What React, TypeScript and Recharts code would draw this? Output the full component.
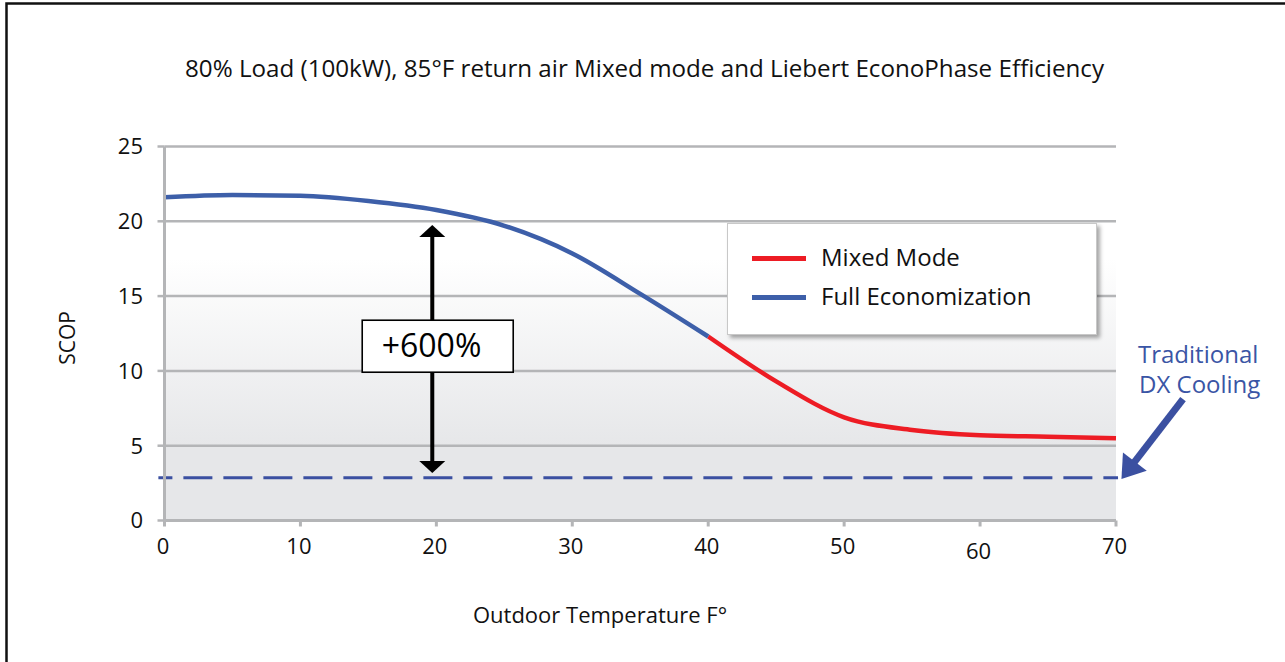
import React from 'react';
import {
  ComposedChart,
  Line,
  XAxis,
  YAxis,
  CartesianGrid,
  ReferenceLine,
  ReferenceDot,
  Legend,
} from 'recharts';

// ---------- data ----------
const temperatures = [0, 5, 10, 15, 20, 25, 30, 35, 40, 45, 50, 55, 60, 65, 70];
const fullEconomization: (number | null)[] = [21.6, 21.75, 21.7, 21.35, 20.75, 19.7, 17.85, 15.15, 12.3, null, null, null, null, null, null];
const mixedMode: (number | null)[] = [null, null, null, null, null, null, null, null, 12.3, 9.3, 6.9, 6.05, 5.7, 5.6, 5.5];
const dxCooling = 2.86;
const xTicks = [0, 10, 20, 30, 40, 50, 60, 70];
const yTicks = [0, 5, 10, 15, 20, 25];
const seriesOrder = ['Mixed Mode', 'Full Economization'];

const titleText = '80% Load (100kW), 85°F return air Mixed mode and Liebert EconoPhase Efficiency';
const xLabel = 'Outdoor Temperature F°';
const yLabel = 'SCOP';
const improvementLabel = '+600%';
const dxLabelLines = ['Traditional', 'DX Cooling'];

// annotation anchor points (data coordinates)
const improvementArrow = [{ x: 19.7, y: 19.75 }, { x: 19.7, y: 3.18 }];
const improvementBox = { x: 20.1, y: 11.65 };
const dxArrow = [{ x: 74.93, y: 8.12 }, { x: 70.4, y: 2.77 }];
const dxLineSegment = [{ x: -0.45, y: dxCooling }, { x: 70.15, y: dxCooling }];

const tableData = temperatures.map((t, i) => ({
  t,
  full: fullEconomization[i],
  mixed: mixedMode[i],
}));

const FONT = '"Open Sans", sans-serif';
const GRID = '#b4b5b7';
const BLUE = '#3d5fa9';
const RED = '#ed1c24';
const DASH_BLUE = '#3b50a1';
const TEXT_BLUE = '#3a55a5';

const XTick = (props: any) => {
  const { x, y, payload } = props;
  const extra = payload.value === 60 ? 5 : 0;
  return (
    <text x={x - 1.5} y={y + extra} dy="0.71em" textAnchor="middle" fontFamily={FONT} fontSize={22} fill="#111">
      {payload.value}
    </text>
  );
};

const VerticalArrow = (props: any) => {
  const { x1, y1, y2 } = props;
  const top = Math.min(y1, y2);
  const bottom = Math.max(y1, y2);
  const hh = 12;
  const hw = 13;
  return (
    <g>
      <line x1={x1} x2={x1} y1={top + hh - 1} y2={bottom - hh + 1} stroke="#000" strokeWidth={4} />
      <polygon points={`${x1},${top} ${x1 - hw},${top + hh} ${x1 + hw},${top + hh}`} fill="#000" />
      <polygon points={`${x1},${bottom} ${x1 - hw},${bottom - hh} ${x1 + hw},${bottom - hh}`} fill="#000" />
    </g>
  );
};

const DxArrow = (props: any) => {
  const { x1, y1, x2, y2 } = props;
  const dx = x2 - x1;
  const dy = y2 - y1;
  const len = Math.sqrt(dx * dx + dy * dy);
  const ux = dx / len;
  const uy = dy / len;
  const hl = 22;
  const hw = 15;
  const bx = x2 - ux * hl;
  const by = y2 - uy * hl;
  const nx = -uy;
  const ny = ux;
  return (
    <g>
      <line x1={x1} y1={y1} x2={bx + ux * 2} y2={by + uy * 2} stroke={DASH_BLUE} strokeWidth={7} />
      <polygon
        points={`${x2},${y2} ${bx + nx * hw},${by + ny * hw} ${bx - nx * hw},${by - ny * hw}`}
        fill={DASH_BLUE}
      />
    </g>
  );
};

const DashedLine = (props: any) => {
  const { x1, y1, x2, y2 } = props;
  return (
    <line
      x1={x1}
      y1={y1}
      x2={x2}
      y2={y2}
      stroke={DASH_BLUE}
      strokeWidth={3}
      strokeDasharray="29 11"
      strokeDashoffset={15}
    />
  );
};

const ImprovementBox = (props: any) => {
  const { cx, cy } = props;
  return (
    <g>
      <rect x={cx - 75.5} y={cy - 26} width={151} height={52} fill="#fff" stroke="#000" strokeWidth={1.6} />
      <text x={cx - 56} y={cy + 11} fontFamily={FONT} fontSize={32} fill="#000">
        {improvementLabel}
      </text>
    </g>
  );
};

const LegendContent = (props: any) => {
  const payload = [...(props.payload || [])].sort(
    (a: any, b: any) => seriesOrder.indexOf(a.value) - seriesOrder.indexOf(b.value)
  );
  return (
    <div
      style={{
        position: 'relative',
        width: 370,
        height: 112,
        background: '#fff',
        border: '1px solid #c8c8c8',
        boxSizing: 'border-box',
        boxShadow: '3px 3px 4px rgba(0,0,0,0.35)',
      }}
    >
      {payload.map((entry: any, i: number) => (
        <div key={entry.value} style={{ position: 'absolute', left: 0, top: 34 + i * 39 - 15, height: 30, width: 370 }}>
          <div
            style={{
              position: 'absolute',
              left: 24,
              top: 13,
              width: 54,
              height: 5,
              background: entry.color,
            }}
          />
          <span
            style={{
              position: 'absolute',
              left: 93,
              top: -3,
              fontFamily: FONT,
              fontSize: 24,
              color: '#111',
              whiteSpace: 'nowrap',
              lineHeight: '34px',
            }}
          >
            {entry.value}
          </span>
        </div>
      ))}
    </div>
  );
};

export default function App() {
  return (
    <div style={{ position: 'absolute', left: 0, top: 0, width: 1285, height: 662, background: '#fff', overflow: 'hidden' }}>
      <svg width={0} height={0} style={{ position: 'absolute' }}>
        <defs>
          <linearGradient id="plotBg" x1="0" y1="0" x2="0" y2="1">
            <stop offset="0" stopColor="#ffffff" />
            <stop offset="0.3" stopColor="#ffffff" />
            <stop offset="0.8" stopColor="#e6e7e9" />
            <stop offset="1" stopColor="#e6e7e9" />
          </linearGradient>
        </defs>
      </svg>
      <div style={{ position: 'absolute', left: 0, top: 0 }}>
        <ComposedChart
          width={1285}
          height={662}
          data={tableData}
          margin={{ top: 146.5, right: 169, left: 104.5, bottom: 101.5 }}
        >
          <CartesianGrid vertical={false} stroke={GRID} strokeWidth={2.5} fill="url(#plotBg)" fillOpacity={1} />
          <XAxis
            dataKey="t"
            type="number"
            domain={[0, 70]}
            ticks={xTicks}
            height={40}
            axisLine={{ stroke: GRID, strokeWidth: 3 }}
            tickLine={{ stroke: GRID, strokeWidth: 3 }}
            tickSize={6}
            tickMargin={11.5}
            tick={<XTick />}
            interval={0}
          />
          <YAxis
            type="number"
            domain={[0, 25]}
            ticks={yTicks}
            width={60}
            axisLine={{ stroke: GRID, strokeWidth: 3 }}
            tickLine={{ stroke: GRID, strokeWidth: 2.5 }}
            tickSize={7}
            tickMargin={14.5}
            tick={{ fontFamily: FONT, fontSize: 22, fill: '#111' }}
            interval={0}
          />
          <ReferenceLine segment={dxLineSegment} ifOverflow="visible" shape={<DashedLine />} />
          <Line
            name="Mixed Mode"
            dataKey="mixed"
            type="monotone"
            stroke={RED}
            strokeWidth={4.5}
            dot={false}
            activeDot={false}
            isAnimationActive={false}
          />
          <Line
            name="Full Economization"
            dataKey="full"
            type="monotone"
            stroke={BLUE}
            strokeWidth={4.5}
            dot={false}
            activeDot={false}
            isAnimationActive={false}
          />
          <ReferenceLine segment={improvementArrow} ifOverflow="visible" shape={<VerticalArrow />} />
          <ReferenceDot x={improvementBox.x} y={improvementBox.y} ifOverflow="visible" shape={<ImprovementBox />} />
          <ReferenceLine segment={dxArrow} ifOverflow="visible" shape={<DxArrow />} />
          <Legend
            layout="horizontal"
            verticalAlign="middle"
            align="center"
            content={<LegendContent />}
            wrapperStyle={{ left: 727, top: 222.5, width: 370, height: 112 }}
          />
        </ComposedChart>
      </div>
      <svg
        width={1285}
        height={662}
        style={{ position: 'absolute', left: 0, top: 0, pointerEvents: 'none' }}
      >
        <path d="M6.5 662 V3.5 H1285" fill="none" stroke="#111" strokeWidth={2.5} />
        <text
          x={185}
          y={77}
          fontFamily={FONT}
          fontSize={23}
          textLength={919}
          lengthAdjust="spacingAndGlyphs"
          fill="#111"
        >
          {titleText}
        </text>
        <text x={600} y={623} textAnchor="middle" fontFamily={FONT} fontSize={22} fill="#111">
          {xLabel}
        </text>
        <text
          x={75}
          y={338}
          transform="rotate(-90 75 338)"
          textAnchor="middle"
          fontFamily={FONT}
          fontSize={21}
          fill="#111"
        >
          {yLabel}
        </text>
        <text x={1138} y={363} fontFamily={FONT} fontSize={24} fill={TEXT_BLUE}>
          {dxLabelLines[0]}
        </text>
        <text x={1139} y={393} fontFamily={FONT} fontSize={24} fill={TEXT_BLUE}>
          {dxLabelLines[1]}
        </text>
      </svg>
    </div>
  );
}
